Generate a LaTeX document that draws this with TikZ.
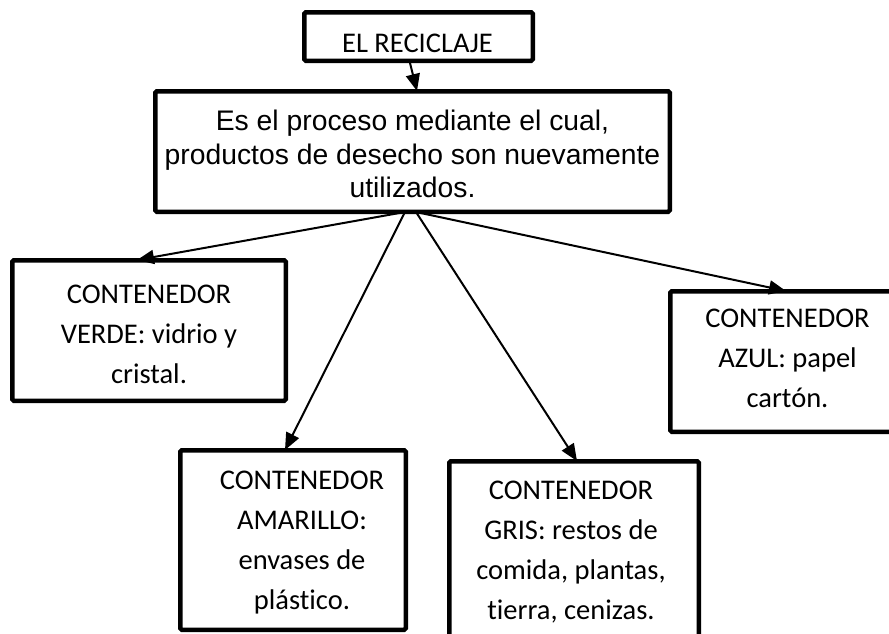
\documentclass[tikz,border=0pt]{standalone}
\usepackage{fontspec}
\newfontfamily\calibfont[RawFeature={-liga;-dlig;-clig;-hlig}]{Carlito}
\newfontfamily\arialfont[RawFeature={-liga;-dlig}]{Liberation Sans}
\usetikzlibrary{arrows.meta}
\tikzset{
  box/.style={draw, line width=4.5pt, rounded corners=1.5pt, inner sep=0pt},
  cal/.style={font=\calibfont\fontsize{28.5}{40}\selectfont, align=center, inner sep=0pt},
  ari/.style={font=\arialfont\fontsize{28.3}{33.5}\selectfont, align=center, inner sep=0pt},
  arr/.style={line width=2pt, -{Triangle[length=17pt,width=14pt]}}
}
\begin{document}
\begin{tikzpicture}[x=1pt, y=-1pt]
\useasboundingbox[fill=white] (0,0) rectangle (889,633);

% boxes
\node[box, minimum width=228.5pt, minimum height=48.5pt] (title) at (418.5,36.5) {};
\node[box, minimum width=514.5pt, minimum height=120.5pt] (main) at (412.5,151.5) {};
\node[box, minimum width=273.5pt, minimum height=140.5pt] (verde) at (149,330.5) {};
\node[box, minimum width=225.5pt, minimum height=179.5pt] (amarillo) at (293,540) {};
\node[box, minimum width=249.5pt, minimum height=196.5pt] (gris) at (574,559.5) {};
\node[box, minimum width=237.5pt, minimum height=140.5pt] (azul) at (789,361.5) {};

% texts
\node[cal] (ttitle) at (417.5,43) {EL RECICLAJE};
\node[ari] (tmain) at (412.5,154.3) {Es el proceso mediante el cual,\\productos de desecho son nuevamente\\utilizados.};
\node[cal] (tverde) at (149,333.9) {CONTENEDOR\\VERDE: vidrio y\\cristal.};
\node[cal] (tamarillo) at (302,542.9) {CONTENEDOR\\AMARILLO:\\envases de\\plástico.};
\node[cal] (tgris) at (571,552.3) {CONTENEDOR\\GRIS: restos de\\comida, plantas,\\tierra, cenizas.};
\node[cal] (tazul) at (787.5,358.4) {CONTENEDOR\\AZUL: papel\\cartón.};

% connectors
\draw[arr] ([xshift=-8.5pt]title.south) -- ([xshift=4.5pt,yshift=-2pt]main.north);
\draw[arr] ([xshift=-7.5pt,yshift=2pt]main.south) -- ([xshift=-12pt,yshift=-2pt]verde.north);
\draw[arr] ([xshift=-7.5pt,yshift=2pt]main.south) -- ([xshift=-8pt,yshift=-2pt]amarillo.north);
\draw[arr] ([xshift=3.5pt,yshift=2pt]main.south) -- ([xshift=3pt,yshift=-2pt]gris.north);
\draw[arr] ([xshift=3.5pt,yshift=2pt]main.south) -- ([xshift=-3pt,yshift=-2pt]azul.north);
\end{tikzpicture}
\end{document}
